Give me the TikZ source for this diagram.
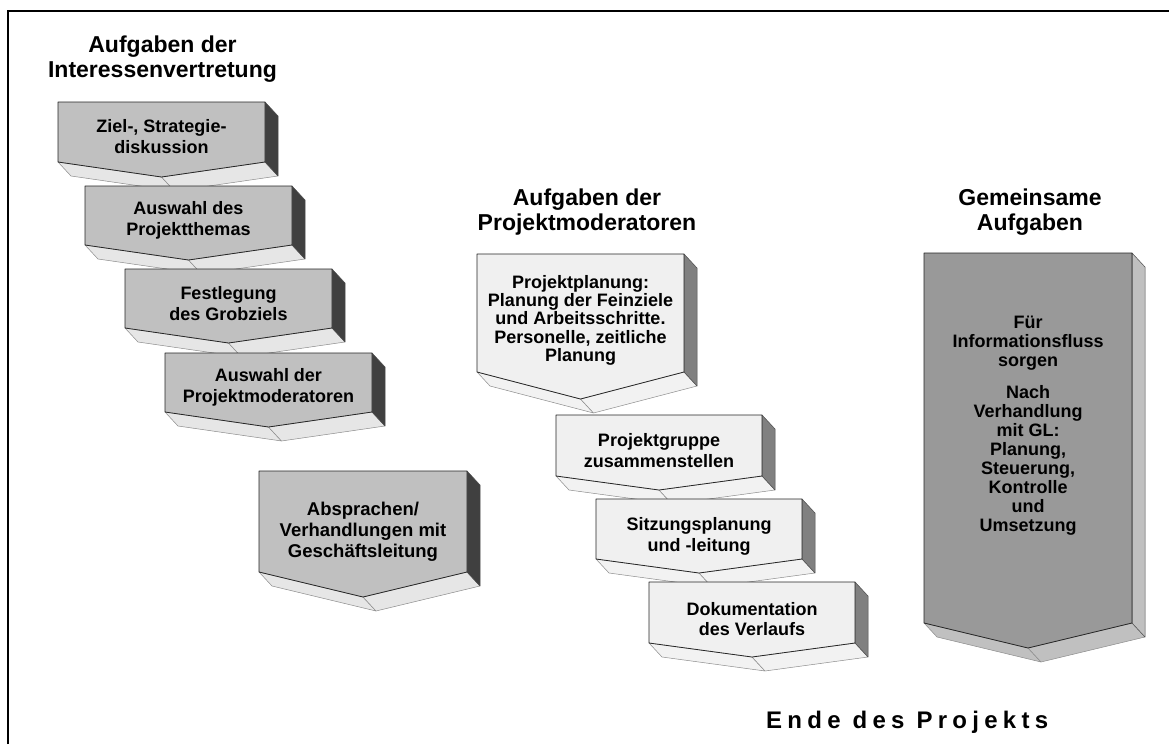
\documentclass[tikz,border=0pt]{standalone}
\usepackage{fontspec}
\setmainfont{Liberation Sans}
\newfontfamily\spacedfont{Liberation Sans}[LetterSpace=22]
\definecolor{lfront}{HTML}{C0C0C0}
\definecolor{lside}{HTML}{404040}
\definecolor{lbottom}{HTML}{E6E6E6}
\definecolor{mfront}{HTML}{F0F0F0}
\definecolor{mside}{HTML}{808080}
\definecolor{mbottom}{HTML}{F2F2F2}
\definecolor{rfront}{HTML}{999999}
\definecolor{rside}{HTML}{C0C0C0}
\definecolor{rbottom}{HTML}{C0C0C0}
\tikzset{
  frontface/.style={draw=black!85, line width=0.8pt, line join=round},
  sideface/.style={draw=black!70, line width=0.5pt, line join=round},
  botface/.style={draw=black!45, line width=0.5pt, line join=round},
  boxtext/.style={align=center, inner sep=0pt, font=\bfseries\fontsize{18}{20.5}\selectfont},
  headtext/.style={align=center, inner sep=0pt, font=\bfseries\fontsize{23}{25}\selectfont},
}
% #1 name, #2 x, #3 y, #4 width, #5 rect height, #6 tip depth, #7 front, #8 side, #9 bottom
\newcommand{\chevbox}[9]{%
  \coordinate (#1-A) at (#2,#3);
  \coordinate (#1-B) at ({#2+#4},#3);
  \coordinate (#1-C) at ({#2+#4},{#3+#5});
  \coordinate (#1-T) at ({#2+#4/2},{#3+#5+#6});
  \coordinate (#1-D) at (#2,{#3+#5});
  \path[botface,fill=#9] (#1-D) -- (#1-T) -- ([shift={(13,14)}]#1-T) -- ([shift={(13,14)}]#1-D) -- cycle;
  \path[botface,fill=#9] (#1-T) -- (#1-C) -- ([shift={(13,14)}]#1-C) -- ([shift={(13,14)}]#1-T) -- cycle;
  \path[sideface,fill=#8] (#1-B) -- ([shift={(13,14)}]#1-B) -- ([shift={(13,14)}]#1-C) -- (#1-C) -- cycle;
  \path[frontface,fill=#7] (#1-A) -- (#1-B) -- (#1-C) -- (#1-T) -- (#1-D) -- cycle;
}
\begin{document}
\begin{tikzpicture}[x=1pt,y=-1pt]
\useasboundingbox (0,0) rectangle (1169,744);
% frame
\coordinate (fbl) at (8,744);
\coordinate (ftl) at (8,11);
\coordinate (ftr) at (1169,11);
\draw[line width=1.2pt] (fbl) -- (ftl) -- (ftr);

% headers
\node[headtext] (h1) at (162.5,59) {Aufgaben der\\Interessenvertretung};
\node[headtext] (h2) at (587,212) {Aufgaben der\\Projektmoderatoren};
\node[headtext] (h3) at (1030,212) {Gemeinsame\\Aufgaben};

% left group
\chevbox{b1}{58}{102}{207}{60}{15}{lfront}{lside}{lbottom}
\chevbox{b2}{85}{186}{207}{59}{15}{lfront}{lside}{lbottom}
\chevbox{b3}{125}{269}{207}{59}{15}{lfront}{lside}{lbottom}
\chevbox{b4}{165}{353}{207}{59}{15}{lfront}{lside}{lbottom}
\chevbox{b5}{259}{471}{208}{101}{25}{lfront}{lside}{lbottom}
\node[boxtext] (t1) at (161.5,136.5) {Ziel-, Strategie-\\diskussion};
\node[boxtext] (t2) at (188.5,220.5) {Auswahl des\\Projektthemas};
\node[boxtext] (t3) at (228.5,303.5) {Festlegung\\des Grobziels};
\node[boxtext] (t4) at (268.5,387.5) {Auswahl der\\Projektmoderatoren};
\node[boxtext, font=\bfseries\fontsize{18.5}{21}\selectfont] (t5) at (363,531.5) {Absprachen/\\Verhandlungen mit\\Geschäftsleitung};

% middle group
\chevbox{m1}{477}{254}{207}{118}{27}{mfront}{mside}{mbottom}
\chevbox{m2}{556}{415}{206}{61}{14}{mfront}{mside}{mbottom}
\chevbox{m3}{596}{499}{206}{60}{14}{mfront}{mside}{mbottom}
\chevbox{m4}{649}{582}{206}{61}{14}{mfront}{mside}{mbottom}
\node[boxtext, font=\bfseries\fontsize{18}{18.4}\selectfont] (s1) at (580.5,320.3) {Projektplanung:\\Planung der Feinziele\\und Arbeitsschritte.\\Personelle, zeitliche\\Planung};
\node[boxtext] (s2) at (659,450.5) {Projektgruppe\\zusammenstellen};
\node[boxtext] (s3) at (699,536.3) {Sitzungsplanung\\und -leitung};
\node[boxtext] (s4) at (752,619) {Dokumentation\\des Verlaufs};

% right group
\chevbox{r1}{924}{253}{208}{370}{25}{rfront}{rside}{rbottom}
\node[boxtext, font=\bfseries\fontsize{18}{19}\selectfont] (g1) at (1028,426) {Für\\Informationsfluss\\sorgen\\[13pt]Nach\\Verhandlung\\mit GL:\\Planung,\\Steuerung,\\Kontrolle\\und\\Umsetzung};

% footer
\node[anchor=base west, inner sep=0pt, font=\spacedfont\bfseries\fontsize{24}{28}\selectfont] (ende) at (766,728) {Ende des Projekts};
\end{tikzpicture}
\end{document}
